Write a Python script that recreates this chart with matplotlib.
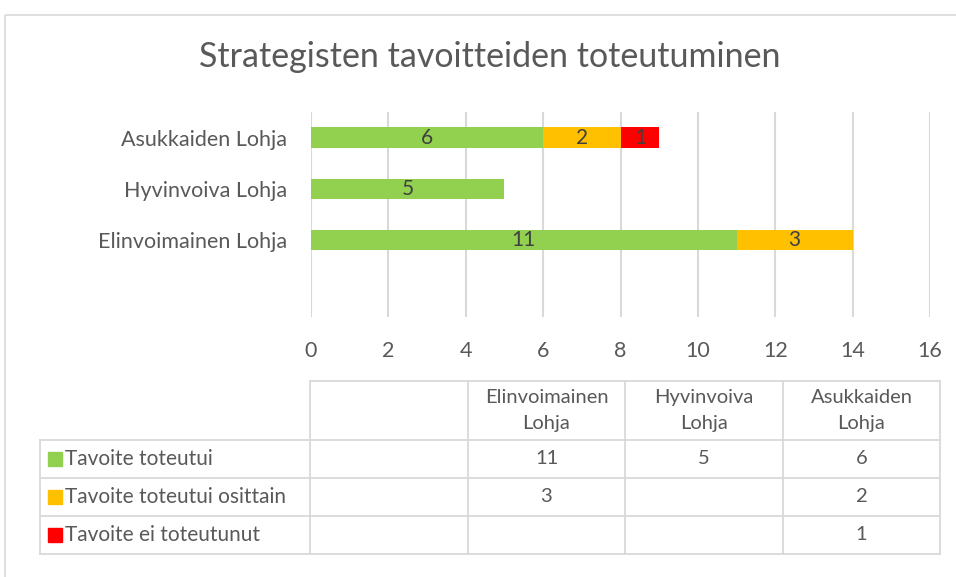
import matplotlib
matplotlib.use("Agg")
import matplotlib.pyplot as plt
from matplotlib.patches import Rectangle

plt.rcParams["font.family"] = ["Lato", "DejaVu Sans"]

# data
categories = ["Elinvoimainen Lohja", "Hyvinvoiva Lohja", "Asukkaiden Lohja"]
table_headers = ["Elinvoimainen\nLohja", "Hyvinvoiva\nLohja", "Asukkaiden\nLohja"]
series_names = ["Tavoite toteutui", "Tavoite toteutui osittain", "Tavoite ei toteutunut"]
toteutui = [11, 5, 6]
osittain = [3, 0, 2]
ei_toteutunut = [0, 0, 1]
colors = ["#92D050", "#FFC000", "#FF0000"]
series = [toteutui, osittain, ei_toteutunut]

W, H = 956, 577
text_col = "#595959"
grid_col = "#D9D9D9"

fig = plt.figure(figsize=(W / 100, H / 100), dpi=100)

# overlay axes in pixel coordinates for border and data table
ov = fig.add_axes([0, 0, 1, 1])
ov.set_xlim(0, W)
ov.set_ylim(H, 0)
ov.axis("off")
ov.add_patch(Rectangle((5.5, 14.5), W, H, fill=False, edgecolor=grid_col, lw=1.2))

ax = fig.add_axes([311 / W, 1 - 317 / H, (930 - 311) / W, (317 - 112) / H])
ypos = [1, 2, 3]
left = [0, 0, 0]
for vals, col in zip(series, colors):
    ax.barh(ypos, vals, left=left, height=0.4, color=col, zorder=3)
    for y, l, v in zip(ypos, left, vals):
        if v:
            ax.text(l + v / 2, y, str(v), ha="center", va="center",
                    fontsize=15, color="#404040", zorder=4)
    left = [a + b for a, b in zip(left, vals)]

ax.set_xlim(0, 16)
ax.set_ylim(-0.5, 3.5)
ax.set_xticks(range(0, 17, 2))
ax.set_yticks(ypos)
ax.set_yticklabels(categories)
ax.grid(axis="x", color=grid_col, lw=1.5, zorder=0)
for s in ax.spines.values():
    s.set_visible(False)
ax.tick_params(length=0, labelsize=15.5, labelcolor=text_col)
ax.tick_params(axis="x", pad=17)
ax.tick_params(axis="y", pad=17)

fig.text(490 / W, 1 - 57 / H, "Strategisten tavoitteiden toteutuminen",
         ha="center", va="center", fontsize=24.5, color=text_col)

# data table
cols = [40, 310, 468, 625, 783, 940]
rows = [381, 440, 478, 516, 554]
lw = 1.3
# horizontal lines
ov.plot([310, 940], [rows[0], rows[0]], color=grid_col, lw=lw)
for r in rows[1:]:
    ov.plot([40, 940], [r, r], color=grid_col, lw=lw)
# vertical lines
ov.plot([40, 40], [rows[1], rows[-1]], color=grid_col, lw=lw)
for c in cols[1:]:
    ov.plot([c, c], [rows[0], rows[-1]], color=grid_col, lw=lw)

for i, h in enumerate(table_headers):
    ov.text((cols[i + 2] + cols[i + 3]) / 2, (rows[0] + rows[1]) / 2, h,
            ha="center", va="center", fontsize=14.5, color=text_col, linespacing=1.65)

for j, (name, vals, col) in enumerate(zip(series_names, series, colors)):
    yc = (rows[j + 1] + rows[j + 2]) / 2
    ov.add_patch(Rectangle((48, yc - 7), 14, 14, color=col))
    ov.text(65, yc, name, ha="left", va="center", fontsize=15, color=text_col)
    for i, v in enumerate(vals):
        if v:
            ov.text((cols[i + 2] + cols[i + 3]) / 2, yc, str(v),
                    ha="center", va="center", fontsize=14.5, color=text_col)

fig.savefig("out.png", dpi=100)
